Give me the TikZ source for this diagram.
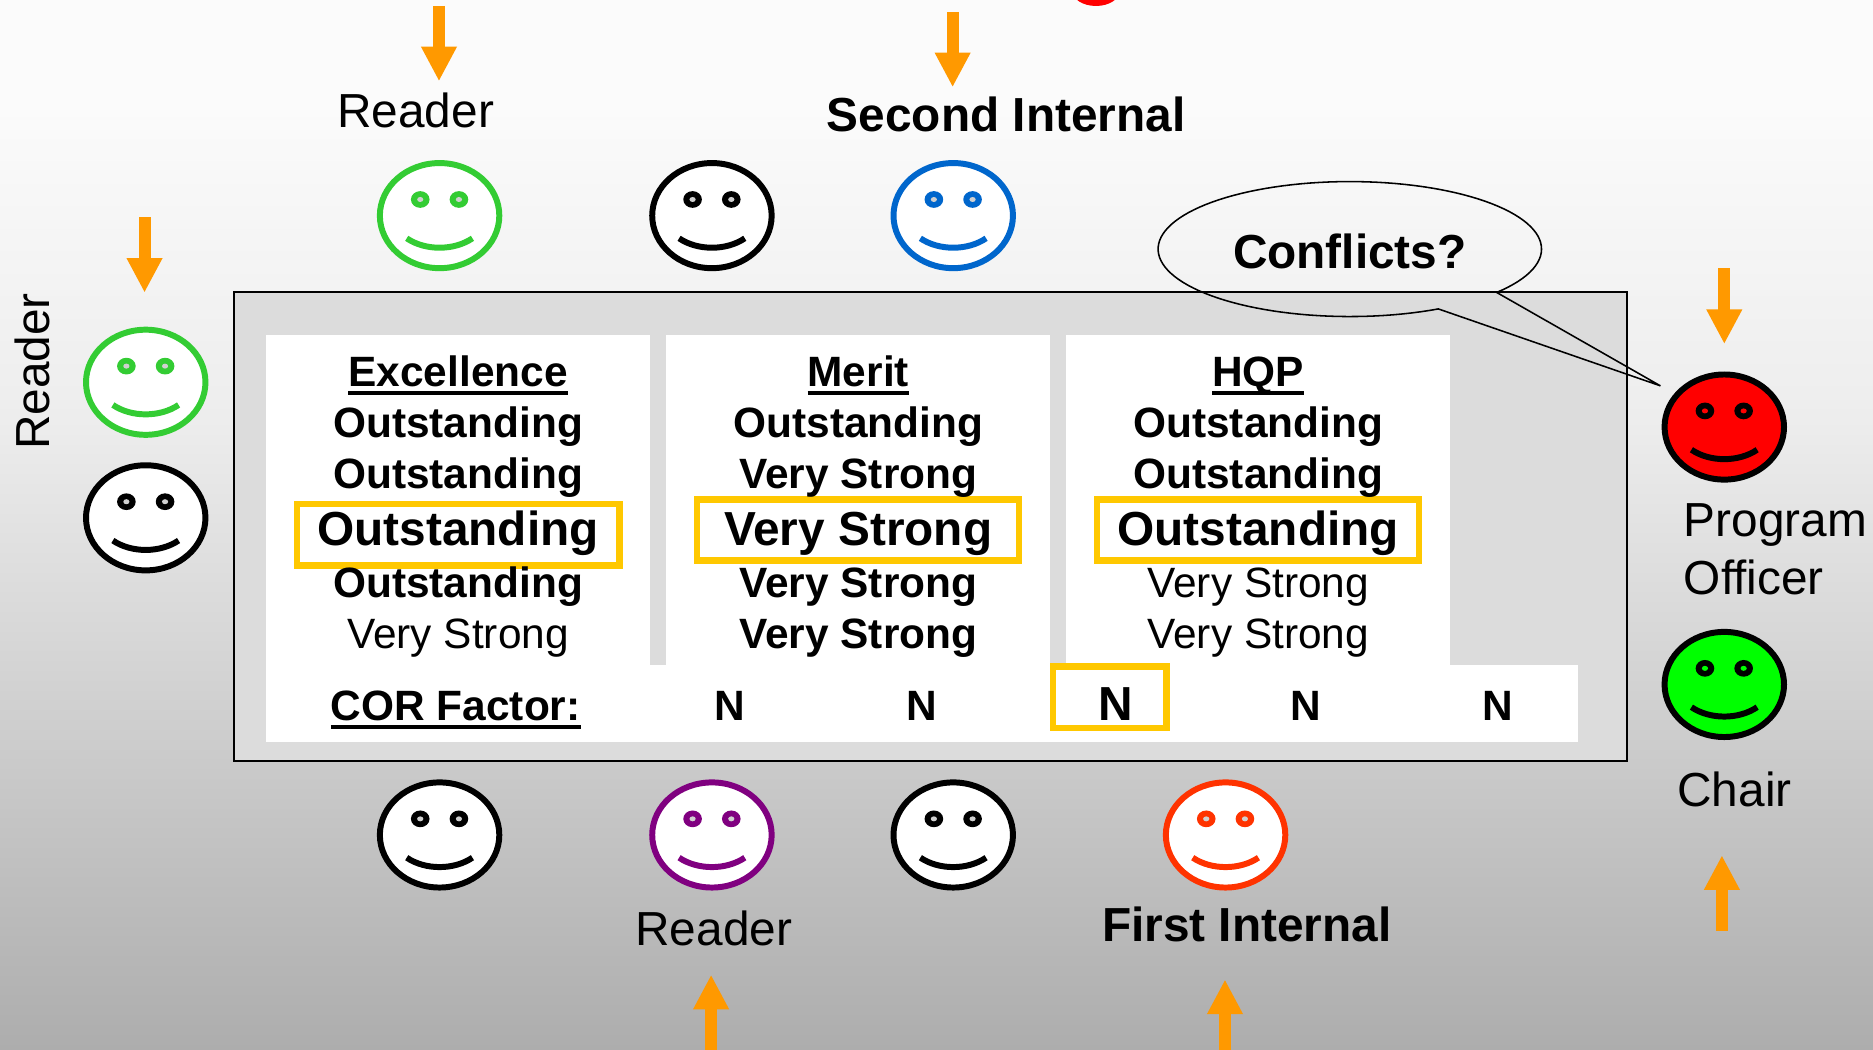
\documentclass[tikz,border=0pt]{standalone}
\usepackage{fontspec}
\setmainfont{Liberation Sans}
\usetikzlibrary{arrows.meta,shapes.geometric}
\definecolor{bga}{HTML}{FBFBFB}
\definecolor{bgb}{HTML}{EDEDED}
\definecolor{bgc}{HTML}{CDCDCD}
\definecolor{bgd}{HTML}{ADADAD}
\pgfdeclareverticalshading{slidebg}{100bp}{color(0bp)=(bgd); color(25bp)=(bgd); color(40bp)=(bgc); color(55bp)=(bgb); color(70bp)=(bga); color(75bp)=(bga); color(100bp)=(bga)}
\definecolor{panel}{HTML}{DCDCDC}
\definecolor{hilite}{HTML}{FFC800}
\definecolor{arroworange}{HTML}{FF9900}
\definecolor{fgreen}{HTML}{33CC33}
\definecolor{fblue}{HTML}{0066CC}
\definecolor{fpurple}{HTML}{800080}
\definecolor{forange}{HTML}{FF3300}
\definecolor{flime}{HTML}{00FF00}
\definecolor{holegray}{HTML}{D0D0D0}
\newcommand\ulx[1]{\setbox0=\hbox{#1}\leavevmode\rlap{\rule[-7.2pt]{\wd0}{3.2pt}}\box0}
% name, x, y, line colour, fill colour, eye-hole colour
\newcommand\smiley[6]{%
  \node[facebody,draw=#4,fill=#5] (#1) at (#2,#3) {};
  \begin{scope}[shift={(#2,#3)}]
    \fill[#4] (-16.2,-13.5) ellipse [x radius=7.8,y radius=7];
    \fill[#4] (16.2,-13.5) ellipse [x radius=7.8,y radius=7];
    \fill[#6] (-16.2,-13.5) ellipse [x radius=2.6,y radius=2.1];
    \fill[#6] (16.2,-13.5) ellipse [x radius=2.6,y radius=2.1];
    \draw[#4,line width=5pt] (-27.5,19) .. controls (-12,29.5) and (12,29.5) .. (27.5,19);
  \end{scope}}
\tikzset{
  facebody/.style={ellipse,line width=5pt,minimum width=100pt,minimum height=88pt,inner sep=0pt,outer sep=0pt},
  blockarrow/.style={draw=arroworange,line width=10pt,-{Triangle[length=29pt,width=28pt]}},
  whitebox/.style={fill=white},
  hibox/.style={draw=hilite,line width=5.5pt},
  cell/.style={anchor=base,inner sep=0pt,font=\fontsize{35.5}{40}\selectfont\bfseries},
  cellreg/.style={anchor=base,inner sep=0pt,font=\fontsize{35.5}{40}\selectfont},
  cellbig/.style={anchor=base,inner sep=0pt,font=\fontsize{40}{44}\selectfont\bfseries},
  lab/.style={anchor=base,inner sep=0pt,font=\fontsize{40}{44}\selectfont},
  labb/.style={anchor=base,inner sep=0pt,font=\fontsize{40}{44}\selectfont\bfseries},
}
\begin{document}
\begin{tikzpicture}[x=1pt,y=-1pt]
\useasboundingbox (0,0) rectangle (1568,878.2);
\shade[shading=slidebg] (0,0) rectangle (1568,878.2);
% red blob cut by the top edge
\fill[red] (917.5,-8) ellipse [x radius=20,y radius=13];
% panel and white boxes
\draw[fill=panel,line width=1.6pt] (196,244.5) rectangle (1362,637);
\fill[whitebox] (222.5,280.5) rectangle (544,560);
\fill[whitebox] (557.5,280.5) rectangle (879,560);
\fill[whitebox] (892.5,280.5) rectangle (1214,560);
\fill[whitebox] (222.5,556.5) rectangle (1321,621);
% highlight boxes
\draw[hibox] (248.5,422) rectangle (518.5,473.5);
\draw[hibox] (583.5,418) rectangle (853,469);
\draw[hibox] (918.5,418) rectangle (1188,469);
\draw[hibox] (881.5,558) rectangle (976.5,609.5);
% column 1
\node[cell] (c1h) at (383.5,323.5) {\ulx{Excellence}};
\node[cell] (c1a) at (383.5,366) {Outstanding};
\node[cell] (c1b) at (383.5,409) {Outstanding};
\node[cellbig] (c1c) at (383.5,456.5) {Outstanding};
\node[cell] (c1d) at (383.5,500) {Outstanding};
\node[cellreg] (c1e) at (383.5,543) {Very Strong};
% column 2
\node[cell] (c2h) at (718.5,323.5) {\ulx{Merit}};
\node[cell] (c2a) at (718.5,366) {Outstanding};
\node[cell] (c2b) at (718.5,409) {Very Strong};
\node[cellbig] (c2c) at (718.5,456.5) {Very Strong};
\node[cell] (c2d) at (718.5,500) {Very Strong};
\node[cell] (c2e) at (718.5,543) {Very Strong};
% column 3
\node[cell] (c3h) at (1053.3,323.5) {\ulx{HQP}};
\node[cell] (c3a) at (1053.3,366) {Outstanding};
\node[cell] (c3b) at (1053.3,409) {Outstanding};
\node[cellbig] (c3c) at (1053.3,456.5) {Outstanding};
\node[cellreg] (c3d) at (1053.3,500) {Very Strong};
\node[cellreg] (c3e) at (1053.3,543) {Very Strong};
% COR row
\node[cell] (cor) at (381.5,603) {\ulx{COR Factor:}};
\node[cell] (n1) at (611,603) {N};
\node[cell] (n2) at (771.5,603) {N};
\node[cellbig] (n3) at (934,603) {N};
\node[cell] (n4) at (1093,603) {N};
\node[cell] (n5) at (1254,603) {N};
% faces
\smiley{ftgreen}{368}{180.5}{fgreen}{white}{holegray}
\smiley{ftblack}{596}{180.5}{black}{white}{holegray}
\smiley{ftblue}{798}{180.5}{fblue}{white}{holegray}
\smiley{flgreen}{122}{320}{fgreen}{white}{holegray}
\smiley{flblack}{122}{433.5}{black}{white}{holegray}
\smiley{fbblacka}{368}{699}{black}{white}{holegray}
\smiley{fbpurple}{596}{699}{fpurple}{white}{holegray}
\smiley{fbblackb}{798}{699}{black}{white}{holegray}
\smiley{fborange}{1026}{699}{forange}{white}{holegray}
\smiley{frred}{1443.5}{357.5}{black}{red}{red}
\smiley{frlime}{1443.5}{573}{black}{flime}{flime}
% callout
\coordinate (tip) at (1390,323);
\draw[line width=1.3pt,line join=miter]
  plot[domain=62.5:400,samples=120] ({1130+160.5*cos(\x)},{208.5+56.5*sin(\x)}) -- (tip) -- cycle;
\node[labb] (conf) at (1130,224.5) {Conflicts?};
% labels
\node[lab] (rtop) at (348,107) {Reader};
\node[labb] (second) at (842.3,110) {Second Internal};
\node[lab,rotate=90] (rleft) at (41.5,311) {Reader};
\node[lab,anchor=base west] (prog) at (1409.5,449) {Program};
\node[lab,anchor=base west] (off) at (1409.5,497.5) {Officer};
\node[lab] (chair) at (1452,675) {Chair};
\node[lab] (rbot) at (597.5,791.5) {Reader};
\node[labb] (first) at (1043.8,788) {First Internal};
% arrows
\coordinate (a1s) at (367.5,5);    \coordinate (a1e) at (367.5,68);
\coordinate (a2s) at (797.5,10);   \coordinate (a2e) at (797.5,73);
\coordinate (a3s) at (121,182);    \coordinate (a3e) at (121,245);
\coordinate (a4s) at (1443.5,224.5); \coordinate (a4e) at (1443.5,288);
\coordinate (a5s) at (1441.5,779); \coordinate (a5e) at (1441.5,716);
\coordinate (a6s) at (595.3,885);    \coordinate (a6e) at (595.3,816);
\coordinate (a7s) at (1025.5,885); \coordinate (a7e) at (1025.5,820);
\foreach \s/\e in {a1s/a1e,a2s/a2e,a3s/a3e,a4s/a4e,a5s/a5e,a6s/a6e,a7s/a7e}
  \draw[blockarrow] (\s) -- (\e);
\end{tikzpicture}
\end{document}
